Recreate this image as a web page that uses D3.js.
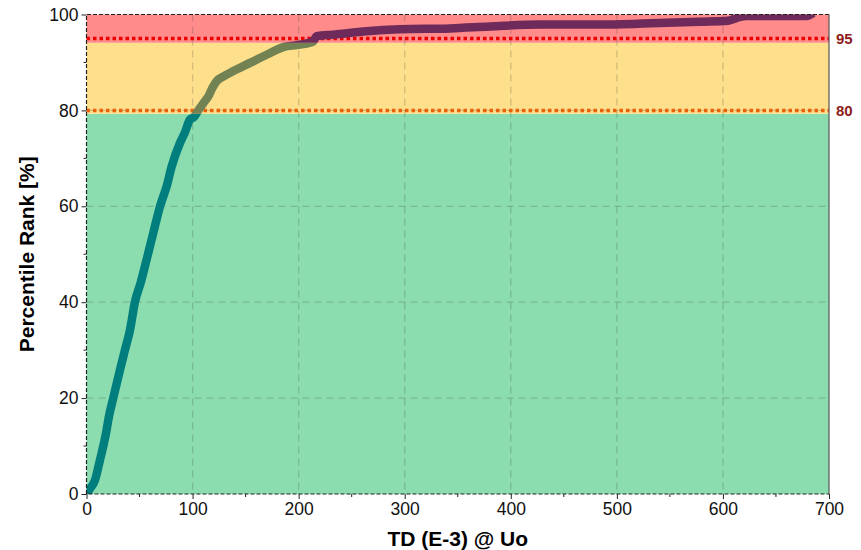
<!DOCTYPE html>
<html>
<head>
<meta charset="utf-8">
<script src="https://d3js.org/d3.v7.min.js"></script>
<style>
  body { margin: 0; background: #fff; }
  text { font-family: "Liberation Sans", Arial, sans-serif; }
</style>
</head>
<body>
<svg id="chart" width="861" height="550"></svg>
<script>
// curve (TD value, percentile rank)
const tdValues = [0, 3, 8, 12.7, 19, 20.5, 25.3, 31.6, 36.3, 41, 45.7, 51.1, 56.7, 63, 69.3, 75.6, 80.3, 88.1, 92.8, 97.5, 101.3, 106, 110.5, 114.8, 118.5, 122.7, 130, 138.4, 154.1, 169.8, 185.5, 201.2, 213.8, 217, 232.3, 264.1, 295.5, 342.6, 380.3, 427.4, 484, 524.6, 578.3, 605, 613.2, 622.6, 679.1, 685];
const rankValues = [0, 1, 2.9, 7.1, 13.4, 15.4, 20.1, 25.9, 30.1, 34.2, 40.1, 44.1, 48.9, 54.5, 60, 64.2, 68.3, 73.2, 75.4, 78.1, 78.6, 80.2, 81.6, 82.9, 84.6, 86.1, 87.2, 88.2, 89.9, 91.6, 93.2, 93.7, 94.4, 95.5, 95.8, 96.5, 96.9, 97.1, 97.5, 97.9, 97.9, 98.1, 98.5, 98.7, 99.3, 99.7, 99.7, 100.3];

const bandEdges = [0, 79.3, 94.1, 100];
const thresholds = [80, 95];
const thresholdLabels = ["80", "95"];
const xTicks = [0, 100, 200, 300, 400, 500, 600, 700];
const xMinor = [50, 150, 250, 350, 450, 550, 650];
const yTicks = [0, 20, 40, 60, 80, 100];
const yMinor = [10, 30, 50, 70, 90];

const bandFill = ["#8bdcae", "#fddf8c", "#ff8b8b"];
const curveColor = ["#007d7d", "#728253", "#6d2a5a"];
const thresholdColor = ["#e8620c", "#ee0000"];

const svg = d3.select("#chart");
const m = {left: 86.5, right: 829, top: 14.5, bottom: 494};
const x = d3.scaleLinear([0, 700], [m.left, m.right]);
const y = d3.scaleLinear([0, 100], [m.bottom, m.top]);

const defs = svg.append("defs");
defs.append("clipPath").attr("id", "plotclip").append("rect")
  .attr("x", m.left).attr("y", m.top).attr("width", m.right - m.left).attr("height", m.bottom - m.top);

// bands
bandFill.forEach((c, i) => {
  svg.append("rect")
    .attr("x", x(0)).attr("width", x(700) - x(0))
    .attr("y", y(bandEdges[i + 1])).attr("height", y(bandEdges[i]) - y(bandEdges[i + 1]))
    .attr("fill", c);
  defs.append("clipPath").attr("id", "band" + i).append("rect")
    .attr("x", x(0)).attr("width", x(700) - x(0))
    .attr("y", y(bandEdges[i + 1])).attr("height", y(bandEdges[i]) - y(bandEdges[i + 1]));
});

// grid
const grid = svg.append("g").attr("stroke", "rgba(60,60,60,0.22)").attr("stroke-width", 1.3).attr("stroke-dasharray", "7,5");
grid.selectAll(".gx").data(xTicks.slice(1, -1)).join("line")
  .attr("x1", d => x(d)).attr("x2", d => x(d)).attr("y1", m.top).attr("y2", m.bottom);
grid.selectAll(".gy").data(yTicks.slice(1, -1)).join("line")
  .attr("y1", d => y(d)).attr("y2", d => y(d)).attr("x1", m.left).attr("x2", m.right);

// threshold lines
thresholds.forEach((t, i) => {
  svg.append("line")
    .attr("x1", m.left).attr("x2", m.right).attr("y1", y(t)).attr("y2", y(t))
    .attr("stroke", thresholdColor[i]).attr("stroke-width", 3.5).attr("stroke-dasharray", "3.5,3");
  svg.append("text")
    .attr("x", m.right + 7).attr("y", y(t) + 6)
    .attr("fill", "#8e1b1b").attr("font-weight", "bold").attr("font-size", 15)
    .text(thresholdLabels[i]);
});

// curve, coloured by band
const pts = tdValues.map((v, i) => [v, rankValues[i]]);
const line = d3.line().x(d => x(d[0])).y(d => y(d[1])).curve(d3.curveMonotoneX);
const plotG = svg.append("g").attr("clip-path", "url(#plotclip)");
curveColor.forEach((c, i) => {
  plotG.append("g").attr("clip-path", `url(#band${i})`)
    .append("path").datum(pts)
    .attr("d", line).attr("fill", "none").attr("stroke", c)
    .attr("stroke-width", 8.5).attr("stroke-linejoin", "round");
});

// border
svg.append("path")
  .attr("d", `M${m.right},${m.top}H${m.left}V${m.bottom}H${m.right}`)
  .attr("fill", "none").attr("stroke", "#222").attr("stroke-width", 1.2).attr("stroke-dasharray", "4,2");
svg.append("line").attr("x1", m.right).attr("x2", m.right).attr("y1", m.top).attr("y2", m.bottom)
  .attr("stroke", "#555").attr("stroke-width", 1.2);

// axes
const xAxis = svg.append("g").attr("transform", `translate(0,${m.bottom})`)
  .call(d3.axisBottom(x).tickValues(xTicks).tickSize(5).tickPadding(4).tickFormat(d3.format("d")));
xAxis.append("g").selectAll("line").data(xMinor).join("line")
  .attr("x1", d => x(d)).attr("x2", d => x(d)).attr("y1", 0).attr("y2", 3).attr("stroke", "#222");
const yAxis = svg.append("g").attr("transform", `translate(${m.left},0)`)
  .call(d3.axisLeft(y).tickValues(yTicks).tickSize(5).tickPadding(3).tickFormat(d3.format("d")));
yAxis.append("g").selectAll("line").data(yMinor).join("line")
  .attr("y1", d => y(d)).attr("y2", d => y(d)).attr("x1", 0).attr("x2", -3).attr("stroke", "#222");
[xAxis, yAxis].forEach(a => {
  a.select(".domain").remove();
  a.selectAll(".tick line").attr("stroke", "#222");
  a.selectAll(".tick text").attr("font-size", 17.5).attr("fill", "#111")
    .attr("font-family", "'Liberation Sans', Arial, sans-serif");
});

svg.append("text").attr("x", (m.left + m.right) / 2).attr("y", 546)
  .attr("text-anchor", "middle").attr("font-weight", "bold").attr("font-size", 21)
  .text("TD (E-3) @ Uo");
svg.append("text")
  .attr("transform", `translate(34,${(m.top + m.bottom) / 2}) rotate(-90)`)
  .attr("text-anchor", "middle").attr("font-weight", "bold").attr("font-size", 21)
  .text("Percentile Rank [%]");
</script>
</body>
</html>
